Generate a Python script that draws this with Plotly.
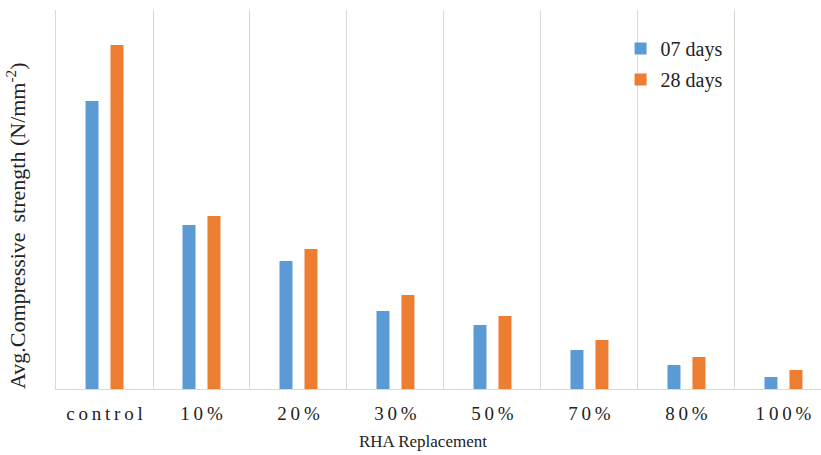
import plotly.graph_objects as go

categories = ["control", "10%", "20%", "30%", "50%", "70%", "80%", "100%"]
days07 = [28.8, 16.4, 12.8, 7.8, 6.4, 3.9, 2.4, 1.2]
days28 = [34.4, 17.3, 14.0, 9.4, 7.3, 4.9, 3.2, 1.9]
series_names = ["07 days", "28 days"]
x_title = "RHA Replacement"
y_title = "Avg.Compressive \u2009strength (N/mm<sup>-2</sup>)"

THIN = "\u2009"
ticktext = [THIN.join(list(c)) for c in categories]

fig = go.Figure()
fig.add_trace(go.Bar(x=categories, y=days07, name=series_names[0], legendgroup="a",
                     marker=dict(color="#5B9BD5", line=dict(width=0))))
fig.add_trace(go.Bar(x=categories, y=days28, name=series_names[1], legendgroup="b",
                     marker=dict(color="#ED7D31", line=dict(width=0))))

font_family = "Liberation Serif, Times New Roman, serif"

fig.update_layout(
    width=821, height=455,
    margin=dict(l=56, r=0, t=10, b=66),
    paper_bgcolor="white", plot_bgcolor="white",
    barmode="group", bargap=0.485, bargroupgap=0.48,
    font=dict(family=font_family, size=17, color="#222222"),
    legend=dict(x=0.738, y=0.95, xanchor="left", yanchor="top",
                font=dict(family=font_family, size=20, color="#222222"),
                bgcolor="rgba(0,0,0,0)", itemwidth=30, tracegroupgap=2),
    showlegend=True,
    annotations=[
        dict(text=x_title, xref="paper", yref="paper",
             x=(423 - 56) / 765, y=-(441 - 389) / 379,
             xanchor="center", yanchor="middle", showarrow=False,
             font=dict(family=font_family, size=17, color="#222222")),
        dict(text=y_title, xref="paper", yref="paper", textangle=-90,
             x=(16 - 56) / 765, y=1 - (226 - 10) / 379,
             xanchor="center", yanchor="middle", showarrow=False,
             font=dict(family=font_family, size=22, color="#222222")),
    ],
)
fig.update_xaxes(
    type="category", tickvals=categories, ticktext=ticktext,
    range=[-0.5, 7.387], tickson="boundaries", showgrid=True,
    gridcolor="#D9D9D9", gridwidth=1, ticks="", showline=True,
    linecolor="#D9D9D9", linewidth=1, automargin=False,
    ticklabelstandoff=7,
    tickfont=dict(family=font_family, size=19, color="#222222"),
)
fig.update_yaxes(
    range=[0, 37.9], showgrid=False, showticklabels=False, ticks="",
    showline=True, linecolor="#D9D9D9", linewidth=1, zeroline=False,
    automargin=False,
)

fig.write_html("out.html", config={"displayModeBar": False},
               post_script="document.body.style.margin='0';document.body.style.overflow='hidden';")
